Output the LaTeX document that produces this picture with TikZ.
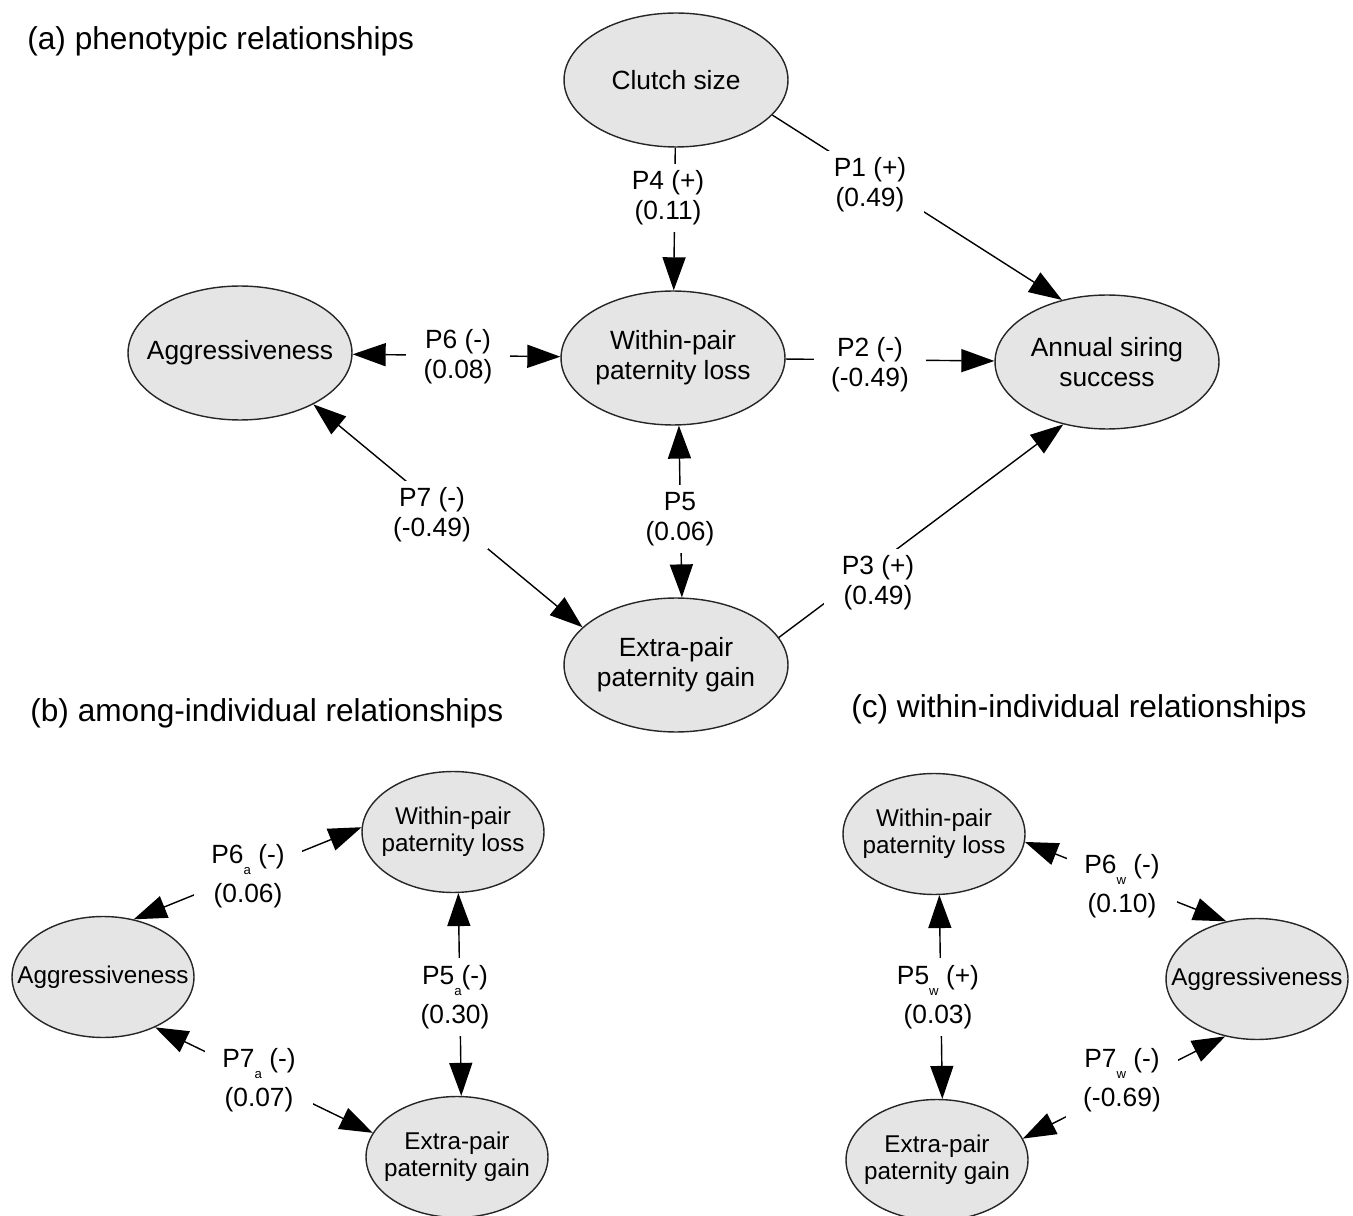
\documentclass[tikz,border=0pt]{standalone}
\usepackage{fontspec}
\setmainfont{Liberation Sans}
\usepackage{tikz}
\usetikzlibrary{shapes.geometric, arrows.meta}
\definecolor{nodegray}{HTML}{E5E5E5}
\newcommand{\psub}[1]{\raisebox{-6.5pt}{\fontsize{7.5pt}{7.5pt}\selectfont #1}}

\begin{document}
\begin{tikzpicture}[x=0.02cm, y=-0.02cm,
    ent/.style={ellipse, draw=black!85, line width=0.8pt, fill=nodegray, inner xsep=-14pt, inner ysep=0pt,
        align=center, minimum width=4.48cm, minimum height=2.68cm, font=\fontsize{15pt}{17pt}\selectfont},
    sment/.style={ent, minimum width=3.64cm, minimum height=2.42cm, font=\fontsize{13.8pt}{15.6pt}\selectfont},
    lab/.style={fill=white, align=center, inner xsep=10pt, inner ysep=4pt, font=\fontsize{15pt}{17pt}\selectfont},
    link/.style={line width=0.8pt, -{Triangle[length=0.66cm, width=0.46cm]}},
    dlink/.style={line width=0.8pt, {Triangle[length=0.66cm, width=0.46cm]}-{Triangle[length=0.66cm, width=0.46cm]}},
    paneltitle/.style={anchor=west, inner sep=0pt, font=\fontsize{18pt}{20pt}\selectfont}]
    \useasboundingbox (0, 0) rectangle (1353, 1216);

    % (a)
    \node[paneltitle] (titleA) at (27, 41) {(a) phenotypic relationships};
    \node[ent] (clutch) at (676, 80) {Clutch size};
    \node[ent] (wplA) at (673, 358) {Within-pair\\paternity loss};
    \node[ent] (aggrA) at (240, 353) {Aggressiveness};
    \node[ent] (annual) at (1107, 362) {Annual siring\\success};
    \node[ent] (epgA) at (676, 665) {Extra-pair\\paternity gain};

    \draw[link] (clutch) -- (wplA);
    \draw[link] (clutch.-20) -- (annual.126);
    \draw[dlink] (aggrA) -- (wplA);
    \draw[link] (wplA) -- (annual);
    \draw[dlink] (wplA.-85) -- (epgA.85);
    \draw[dlink] (aggrA.-35) -- (epgA.158);
    \draw[link] (epgA.15) -- (annual.-125);

    \node[lab] (lP4) at (668, 198) {P4 (+)\\(0.11)};
    \node[lab] (lP1) at (870, 185) {P1 (+)\\(0.49)};
    \node[lab] (lP6) at (458, 357) {P6 (-)\\(0.08)};
    \node[lab] (lP2) at (870, 365) {P2 (-)\\(-0.49)};
    \node[lab] (lP5) at (680, 519) {P5\\(0.06)};
    \node[lab] (lP7) at (432, 515) {P7 (-)\\(-0.49)};
    \node[lab] (lP3) at (878, 583) {P3 (+)\\(0.49)};

    % (b)
    \node[paneltitle] (titleB) at (30, 713) {(b) among-individual relationships};
    \node[sment] (wplB) at (453, 832) {Within-pair\\paternity loss};
    \node[sment] (aggrB) at (103, 977) {Aggressiveness};
    \node[sment] (epgB) at (457, 1157) {Extra-pair\\paternity gain};

    \draw[dlink] (aggrB.62) -- (wplB.177);
    \draw[dlink] (aggrB.-44) -- (epgB.164);
    \draw[dlink] (wplB.-85) -- (epgB.86);

    \node[lab] (lP6a) at (248, 876) {P6\psub{a} (-)\\[4pt](0.06)};
    \node[lab] (lP7a) at (259, 1080) {P7\psub{a} (-)\\[4pt](0.07)};
    \node[lab] (lP5a) at (455, 997) {P5\psub{a}(-)\\[4pt](0.30)};

    % (c)
    \node[paneltitle] (titleC) at (851, 709) {(c) within-individual relationships};
    \node[sment] (wplC) at (934, 834) {Within-pair\\paternity loss};
    \node[sment] (aggrC) at (1257, 979) {Aggressiveness};
    \node[sment] (epgC) at (937, 1160) {Extra-pair\\paternity gain};

    \draw[dlink] (aggrC.118) -- (wplC.-5);
    \draw[dlink] (aggrC.-119) -- (epgC.14);
    \draw[dlink] (wplC.-85) -- (epgC.85);

    \node[lab] (lP6w) at (1122, 886) {P6\psub{w} (-)\\[4pt](0.10)};
    \node[lab] (lP7w) at (1122, 1080) {P7\psub{w} (-)\\[4pt](-0.69)};
    \node[lab] (lP5w) at (938, 997) {P5\psub{w} (+)\\[4pt](0.03)};
\end{tikzpicture}
\end{document}
